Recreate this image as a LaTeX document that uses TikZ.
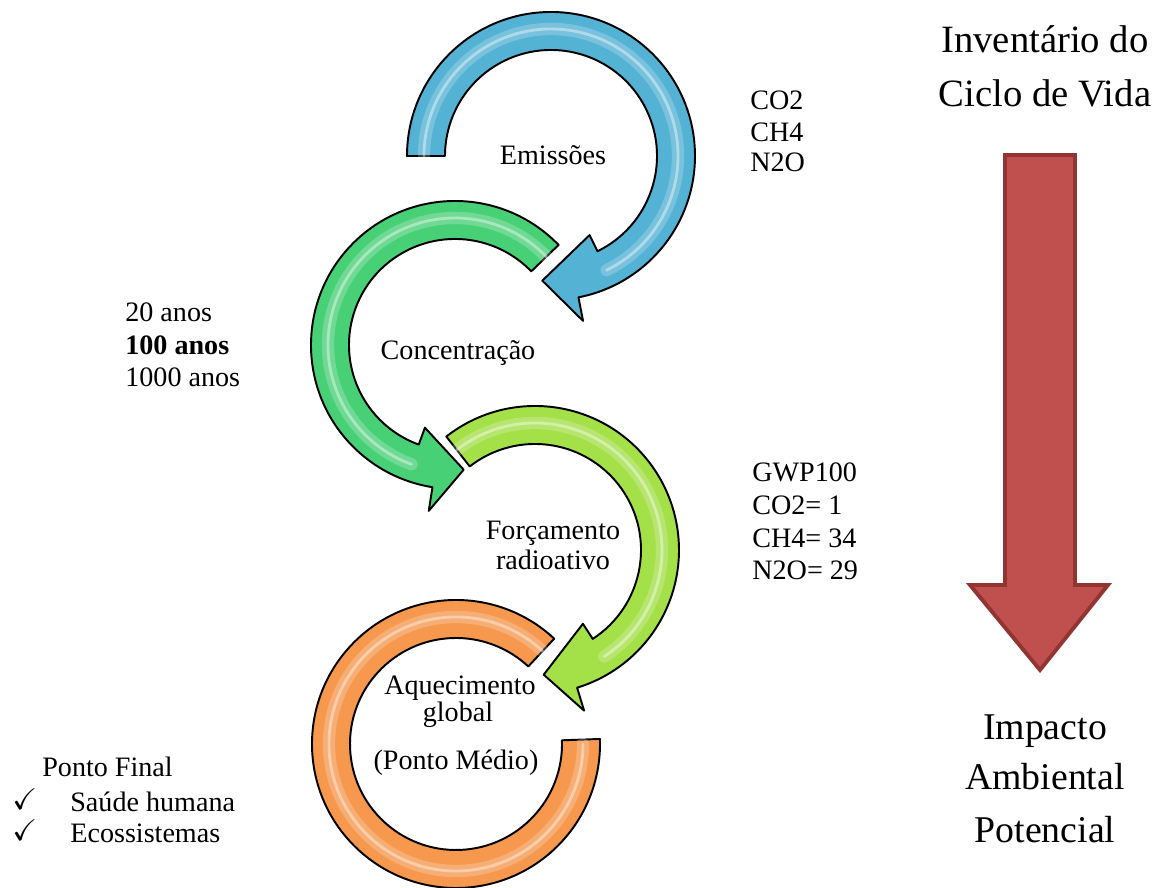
\documentclass[tikz,border=0pt]{standalone}
\usepackage{fontspec}
\usepackage{amssymb}
\setmainfont{Liberation Serif}
\usetikzlibrary{calc}

\definecolor{ringblue}{RGB}{84,178,212}
\definecolor{ringgreen}{RGB}{72,208,118}
\definecolor{ringlime}{RGB}{164,224,72}
\definecolor{ringorange}{RGB}{246,152,78}
\definecolor{bigred}{RGB}{192,80,77}
\definecolor{bigredline}{RGB}{146,52,50}

% ring geometry (picture units)
\def\ri{106}
\def\ro{144}
\def\rm{125}
\def\rh{127}
\def\rwi{88}
\def\rwo{168}

% glossy band along a ring segment: #1 centre, #2 from angle, #3 to angle
\newcommand{\ringgloss}[3]{%
  \draw[white, opacity=.22, line width=7pt, line cap=round]
    ($(#1)+(#2:\rh)$) arc[start angle=#2, end angle=#3, radius=\rh];
  \draw[white, opacity=.40, line width=1.6pt, line cap=round]
    ($(#1)+(#2:\rh)$) arc[start angle=#2, end angle=#3, radius=\rh];
}

% curved arrow around a centre: #1 centre, #2 tail angle,
% #3 head base angle on the inner side, #4 head base angle on the outer side,
% #5 tip angle, #6 colour
\newcommand{\ringarrow}[6]{%
  \fill[#6, draw=black, line width=1.1pt, line join=round]
    ($(#1)+(#2:\ro)$) arc[start angle=#2, end angle=#4, radius=\ro]
    -- ($(#1)+(#4:\rwo)$) -- ($(#1)+(#5:\rm)$) -- ($(#1)+(#3:\rwi)$)
    -- ($(#1)+(#3:\ri)$) arc[start angle=#3, end angle=#2, radius=\ri] -- cycle;
  \ringgloss{#1}{#2}{#3}
}

\tikzset{
  small/.style={inner sep=0pt, font=\fontsize{16}{19}\selectfont},
  tick/.style={inner sep=0pt, font=\fontsize{17}{19}\selectfont, anchor=base west},
  big/.style={inner sep=0pt, font=\fontsize{22}{26}\selectfont, anchor=base},
  bigb/.style={inner sep=0pt, font=\fontsize{21.5}{26}\selectfont, anchor=base},
}

\begin{document}
\begin{tikzpicture}[x=0.02cm, y=0.02cm]
\useasboundingbox (0,0) rectangle (1161,888);
\fill[white] (0,0) rectangle (1161,888);

% centres of the four rings
\coordinate (cE) at (551,732);
\coordinate (cC) at (455,543);
\coordinate (cF) at (535,338);
\coordinate (cA) at (456,144);

% rings
\ringarrow{cE}{180}{-64}{-79}{-94}{ringblue}
\ringarrow{cC}{44}{250}{261}{274}{ringgreen}
\ringarrow{cF}{128}{-57}{-73}{-86}{ringlime}
\fill[ringorange, draw=black, line width=1.1pt, line join=round]
  ($(cA)+(47:\ro)$) arc[start angle=47, end angle=362, radius=\ro]
  -- ($(cA)+(362:\ri)$) arc[start angle=362, end angle=47, radius=\ri] -- cycle;
\ringgloss{cA}{47}{360}

% ring labels
\node[small, anchor=base] (emis) at (553,723) {Emissões};
\node[small, anchor=base] (conc) at (458,528) {Concentração};
\node[small, anchor=base] (forc1) at (553,348) {Forçamento};
\node[small, anchor=base] (forc2) at (553,318) {radioativo};
\node[small, anchor=base] (aq1) at (460,193) {Aquecimento};
\node[small, anchor=base] (aq2) at (458,166) {global};
\node[small, anchor=base] (aq3) at (456,118) {(Ponto Médio)};

% side notes
\node[small, anchor=base west] (g1) at (750,778) {CO2};
\node[small, anchor=base west] (g2) at (750,746) {CH4};
\node[small, anchor=base west] (g3) at (750,716) {N2O};

\node[small, anchor=base west] (t1) at (125,566) {20 anos};
\node[small, anchor=base west, font=\fontsize{16}{19}\selectfont\bfseries] (t2) at (125,533) {100 anos};
\node[small, anchor=base west] (t3) at (125,501) {1000 anos};

\node[small, anchor=base west] (w1) at (752,406) {GWP100};
\node[small, anchor=base west] (w2) at (752,373) {CO2= 1};
\node[small, anchor=base west] (w3) at (752,340) {CH4= 34};
\node[small, anchor=base west] (w4) at (752,308) {N2O= 29};

\node[small, anchor=base west] (pf) at (42,111) {Ponto Final};
\node[tick] (ck1) at (12,78) {$\checkmark$};
\node[small, anchor=base west] (pf1) at (70,76) {Saúde humana};
\node[tick] (ck2) at (12,47) {$\checkmark$};
\node[small, anchor=base west] (pf2) at (70,45) {Ecossistemas};

% right column
\node[big] (inv1) at (1045,835) {Inventário do};
\node[big] (inv2) at (1045,781) {Ciclo de Vida};
\node[bigb] (imp1) at (1045,148) {Impacto};
\node[bigb] (imp2) at (1045,98) {Ambiental};
\node[bigb] (imp3) at (1045,45) {Potencial};

% big downward arrow
\filldraw[fill=bigred, draw=bigredline, line width=2.2pt, line join=miter]
  (1005,733) -- (1075,733) -- (1075,303) -- (1108,303) -- (1040,218)
  -- (970,303) -- (1005,303) -- cycle;
\end{tikzpicture}
\end{document}
